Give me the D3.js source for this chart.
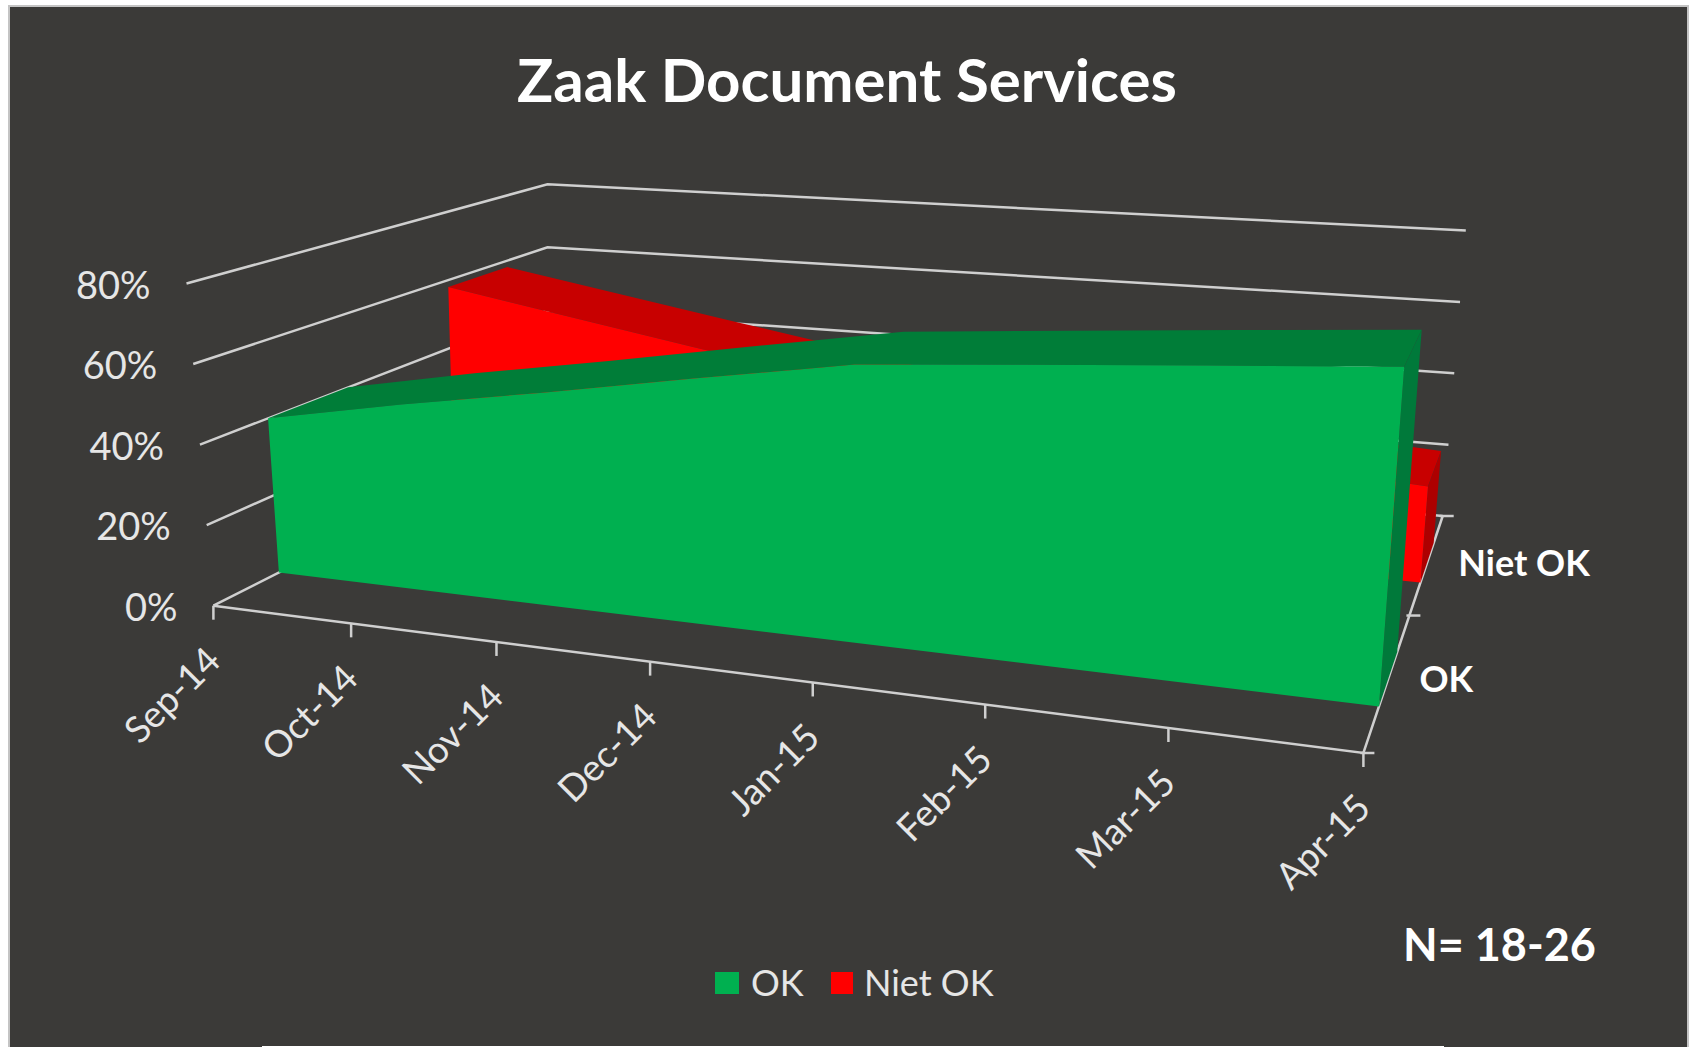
<!DOCTYPE html>
<html>
<head>
<meta charset="utf-8">
<script src="https://cdn.jsdelivr.net/npm/d3@7"></script>
<style>
	html, body { margin: 0; background: #fff; }
	svg { display: block; }
	text { font-family: Lato, "Open Sans", sans-serif; }
</style>
</head>
<body>
<svg id="chart" width="1690" height="1047"></svg>
<script>
const months = ['Sep-14', 'Oct-14', 'Nov-14', 'Dec-14', 'Jan-15', 'Feb-15', 'Mar-15', 'Apr-15'];
const seriesNames = ['OK', 'Niet OK'];
const okValues = [0.40, 0.47, 0.535, 0.605, 0.675, 0.71, 0.745, 0.78];
const nietOkValues = [0.58, 0.52, 0.46, 0.40, 0.33, 0.30, 0.275, 0.25];
const yTicks = [0, 0.2, 0.4, 0.6, 0.8];

let svg = d3.select('#chart');

// box corners on screen, named x/y/z with 0 = left, bottom, front
const corners = {
	'000': [213.4, 605.7], '010': [186.5, 283.5], '001': [547.5, 436.5], '011': [547.5, 184.3],
	'100': [1363.4, 753], '110': [1390, 389], '101': [1442.7, 516], '111': [1465.8, 230.6]
};

let x = d3.scalePoint().domain(months).range([0, 1]);
let y = d3.scaleLinear().domain([0, 0.8]).range([0, 1]);
let z = d3.scaleBand().domain(seriesNames).range([0, 1]).paddingInner(0.6).paddingOuter(0.3);

// foreshortening along the two receding directions
function warp(t, q) { return t / (t + q * (1 - t)); }

function project(xPos, yVal, zPos) {
	let u = warp(xPos, 1.225), v = y(yVal), w = warp(zPos, 0.724);
	let out = [0, 0];
	[0, 1].forEach(function(a) {
		[0, 1].forEach(function(b) {
			[0, 1].forEach(function(c) {
				let k = (a ? u : 1 - u) * (b ? v : 1 - v) * (c ? w : 1 - w);
				let p = corners['' + a + b + c];
				out[0] += k * p[0];
				out[1] += k * p[1];
			});
		});
	});
	return out;
}

let path = d3.line();

// panel
svg.append('rect').attr('x', 9).attr('y', 6).attr('width', 1679).attr('height', 1042)
	.attr('fill', '#3b3a38').attr('stroke', '#c4c4c4').attr('stroke-width', 2);
svg.append('rect').attr('x', 262).attr('y', 1046).attr('width', 1182).attr('height', 1).attr('fill', '#fff');

// walls
let grid = svg.append('g').attr('fill', 'none').attr('stroke', '#cfcfcf').attr('stroke-width', 2.5);
yTicks.forEach(function(t) {
	grid.append('path').attr('d', path([project(0, t, 0), project(0, t, 1), project(1, t, 1)]));
});

// floor axes
let axis = svg.append('g').attr('fill', 'none').attr('stroke', '#cfcfcf').attr('stroke-width', 2.5);
axis.append('path').attr('d', path([project(0, 0, 0), project(1, 0, 0), project(1, 0, 1)]));
months.forEach(function(m) {
	let p = project(x(m), 0, 0);
	axis.append('line').attr('x1', p[0]).attr('y1', p[1]).attr('x2', p[0]).attr('y2', p[1] + 14);
});
[0, 0.5, 1].forEach(function(t) {
	let p = project(1, 0, t);
	axis.append('line').attr('x1', p[0] - 3).attr('y1', p[1]).attr('x2', p[0] + 11).attr('y2', p[1]);
});

// one extruded area
function drawArea(name, values, colors) {
	let z0 = z(name), z1 = z(name) + z.bandwidth();
	let g = svg.append('g');
	let last = values[values.length - 1];
	let topFront = months.map(function(m, i) { return project(x(m), values[i], z0); });
	let topBack = months.map(function(m, i) { return project(x(m), values[i], z1); });
	g.append('path').attr('fill', colors.top).attr('d', path(topFront.concat(topBack.reverse())) + 'Z');
	g.append('path').attr('fill', colors.side).attr('d', path([
		project(1, last, z0), project(1, last, z1), project(1, 0, z1), project(1, 0, z0)
	]) + 'Z');
	g.append('path').attr('fill', colors.front).attr('d', path(
		topFront.concat([project(1, 0, z0), project(0, 0, z0)])
	) + 'Z');
}

drawArea('Niet OK', nietOkValues, { front: '#ff0000', top: '#c80000', side: '#ad0000' });
drawArea('OK', okValues, { front: '#00b050', top: '#007d38', side: '#00793a' });

// y labels
svg.append('g').selectAll('text').data(yTicks).enter().append('text')
	.attr('x', function(d) { return project(0, d, 0)[0] - 36; })
	.attr('y', function(d) { return project(0, d, 0)[1] + 2; })
	.attr('dy', '.35em').attr('text-anchor', 'end')
	.attr('font-size', 38).attr('fill', '#e6e6e6')
	.text(d3.format('.0%'));

// x labels
svg.append('g').selectAll('text').data(months).enter().append('text')
	.attr('transform', function(d) {
		let p = project(x(d), 0, 0);
		return 'translate(' + p[0] + ',' + (p[1] + 48) + ') rotate(-45)';
	})
	.attr('dy', '.35em').attr('text-anchor', 'end')
	.attr('font-size', 37).attr('fill', '#e6e6e6')
	.text(function(d) { return d; });

// series labels
svg.append('g').selectAll('text').data(seriesNames).enter().append('text')
	.attr('x', function(d) { return project(1, 0, z(d) + z.bandwidth() / 2)[0] + 31; })
	.attr('y', function(d) { return project(1, 0, z(d) + z.bandwidth() / 2)[1] + 1; })
	.attr('dy', '.35em').attr('font-size', 36).attr('font-weight', 700).attr('fill', '#fff')
	.text(function(d) { return d; });

// title and note
svg.append('text').attr('x', 847).attr('y', 102).attr('text-anchor', 'middle')
	.attr('font-size', 60).attr('font-weight', 700).attr('fill', '#fff').text('Zaak Document Services');
svg.append('text').attr('x', 1403).attr('y', 961)
	.attr('font-size', 45).attr('font-weight', 700).attr('fill', '#fff').text('N= 18-26');

// legend
let legendColor = d3.scaleOrdinal().domain(seriesNames).range(['#00b050', '#ff0000']);
let legendX = { 'OK': [715, 751], 'Niet OK': [831, 864] };
let legend = svg.append('g').selectAll('g').data(seriesNames).enter().append('g');
legend.append('rect')
	.attr('x', function(d) { return legendX[d][0]; }).attr('y', 972)
	.attr('width', function(d) { return d == 'OK' ? 24 : 22; }).attr('height', 22)
	.attr('fill', function(d) { return legendColor(d); });
legend.append('text')
	.attr('x', function(d) { return legendX[d][1]; }).attr('y', 983)
	.attr('dy', '.35em').attr('font-size', 36).attr('fill', '#e6e6e6')
	.text(function(d) { return d; });
</script>
</body>
</html>
